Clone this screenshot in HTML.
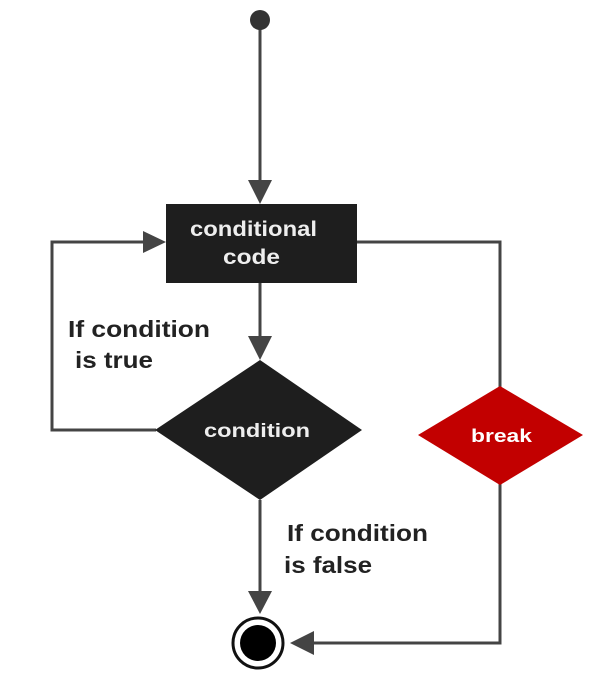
<!DOCTYPE html>
<html><head><style>body{margin:0;background:#fff}svg{display:block}</style></head><body>
<svg width="604" height="693" viewBox="0 0 604 693" xmlns="http://www.w3.org/2000/svg" font-family="Liberation Sans, sans-serif" font-weight="bold">
<g stroke="#444" stroke-width="3" fill="none">
<line x1="260" y1="22" x2="260" y2="185"/>
<line x1="260" y1="283" x2="260" y2="340"/>
<polyline points="156,430 52,430 52,242 145,242"/>
<polyline points="357,242 500,242 500,388"/>
<polyline points="500,484 500,643 300,643"/>
<line x1="260" y1="500" x2="260" y2="595"/>
</g>
<g fill="#444">
<polygon points="248,180 272,180 260,204"/>
<polygon points="248,336 272,336 260,360"/>
<polygon points="143,231 143,253 166,242"/>
<polygon points="248,591 272,591 260,614"/>
<polygon points="290,643 314,631 314,655"/>
</g>
<circle cx="260" cy="20" r="10" fill="#333"/>
<rect x="166" y="204" width="191" height="79" fill="#1e1e1e"/>
<text x="190" y="236" fill="#eee" font-size="21" textLength="127" lengthAdjust="spacingAndGlyphs">conditional</text>
<text x="223" y="264" fill="#eee" font-size="21" textLength="57" lengthAdjust="spacingAndGlyphs">code</text>
<polygon points="260,360 362,430 260,500 155,430" fill="#1e1e1e"/>
<text x="204" y="437" fill="#eee" font-size="19" textLength="106" lengthAdjust="spacingAndGlyphs">condition</text>
<polygon points="500,386 583,435 500,485 418,435" fill="#c20000"/>
<text x="471" y="442" fill="#fff" font-size="18" textLength="61" lengthAdjust="spacingAndGlyphs">break</text>
<circle cx="258" cy="643" r="25" fill="#fff" stroke="#111" stroke-width="3"/>
<circle cx="258" cy="643" r="18" fill="#000"/>
<g fill="#222" font-size="23">
<text x="68" y="337" textLength="142" lengthAdjust="spacingAndGlyphs">If condition</text>
<text x="75" y="368" textLength="78" lengthAdjust="spacingAndGlyphs">is true</text>
<text x="287" y="541" textLength="141" lengthAdjust="spacingAndGlyphs">If condition</text>
<text x="284" y="573" textLength="88" lengthAdjust="spacingAndGlyphs">is false</text>
</g>
</svg>
</body></html>
